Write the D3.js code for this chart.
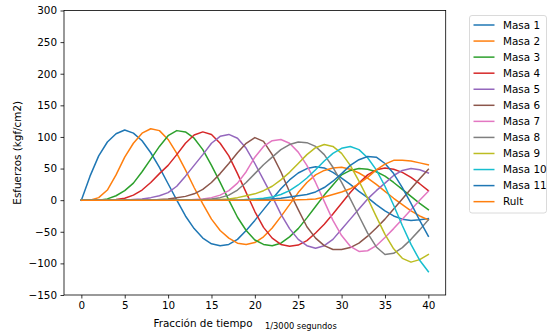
<!DOCTYPE html>
<html><head><meta charset="utf-8">
<script src="https://cdn.jsdelivr.net/npm/d3@7"></script>
<style>body{margin:0;background:#fff}svg{display:block;font-family:"DejaVu Sans",sans-serif}</style>
</head><body><svg id="c" width="552" height="336"></svg>
<script>
const steps = d3.range(0, 41);
const xTicks = [0, 5, 10, 15, 20, 25, 30, 35, 40];
const yTicks = [-150, -100, -50, 0, 50, 100, 150, 200, 250, 300];
const seriesNames = ["Masa 1","Masa 2","Masa 3","Masa 4","Masa 5","Masa 6","Masa 7","Masa 8","Masa 9","Masa 10","Masa 11","Rult"];
const colors = ["#1f77b4","#ff7f0e","#2ca02c","#d62728","#9467bd","#8c564b","#e377c2","#7f7f7f","#bcbd22","#17becf","#1f77b4","#ff7f0e"];

const masa1 = [0,38,70,92,105,111,106,94,75,52,26,0,-25,-45,-60,-69,-72,-70,-62,-48,-32,-15,2,18,32,43,50,53,51,44,35,25,14,4,-7,-17,-25,-30,-32,-31,-29];
const masa2 = [0,0,4,16,40,68,90,106,113,110,96,74,48,20,-6,-30,-48,-60,-68,-70,-67,-58,-44,-26,-7,12,28,40,47,51,52,49,43,35,25,14,3,-7,-17,-25,-31];
const masa3 = [0,0,0,2,7,15,27,45,65,85,102,110,108,98,80,55,28,0,-27,-48,-63,-70,-72,-68,-58,-45,-28,-10,8,24,40,47,50,49,45,38,28,17,6,-5,-15];
const masa4 = [0,0,0,0,1,3,8,16,28,42,55,72,90,103,108,104,90,70,42,12,-18,-43,-60,-70,-73,-71,-64,-52,-38,-22,-5,12,27,40,48,51,49,44,36,26,15];
const masa5 = [0,0,0,0,0,0,1,2,4,7,12,22,38,55,72,90,101,104,98,82,58,32,6,-22,-45,-62,-72,-76,-72,-62,-46,-30,-14,2,15,27,39,47,50,48,43];
const masa6 = [0,0,0,0,0,0,0,0,0,1,2,4,6,10,17,28,42,58,75,90,99,93,72,45,13,-15,-42,-60,-72,-78,-78,-75,-68,-57,-44,-30,-14,2,18,34,49];
const masa7 = [0,0,0,0,0,0,0,0,0,0,0,0,0,1,2,4,8,15,27,45,68,85,94,96,90,76,55,28,-2,-32,-56,-73,-81,-80,-72,-59,-45,-30,-15,0,14];
const masa8 = [0,0,0,0,0,0,0,0,0,0,0,0,0,0,1,2,4,8,16,28,42,56,68,80,88,92,91,85,72,52,28,2,-25,-52,-74,-86,-84,-75,-62,-47,-31];
const masa9 = [0,0,0,0,0,0,0,0,0,0,0,0,0,0,0,0,1,2,4,7,10,15,22,32,44,58,72,83,88,85,74,55,30,3,-26,-54,-77,-92,-98,-94,-86];
const masa10 = [0,0,0,0,0,0,0,0,0,0,0,0,0,0,0,0,0,0,0,1,2,3,5,9,15,24,35,48,62,74,82,85,80,67,48,22,-8,-40,-70,-95,-113];
const masa11 = [0,0,0,0,0,0,0,0,0,0,0,0,0,0,0,0,0,0,0,0,0,1,2,3,5,7,9,13,20,30,42,55,64,69,68,58,42,20,-5,-32,-57];
const rult = [0,0,0,0,0,0,0,0,0,0,0,0,0,0,0,0,0,0,0,0,0,0,0,0,0,0.5,1,2,5,9,13,18,26,36,48,57,63,63,62,59,56];

const allSeries = [masa1,masa2,masa3,masa4,masa5,masa6,masa7,masa8,masa9,masa10,masa11,rult];

const svg = d3.select("#c");
const L = 64, R = 445.7, T = 10.5, B = 295;
const x = d3.scaleLinear().domain([-2, 42]).range([L, R]);
const y = d3.scaleLinear().domain([-150, 300]).range([B, T]);
const fs = 10.4;

const line = d3.line().x((d, i) => x(steps[i])).y(d => y(d));
const g = svg.append("g");
allSeries.forEach((s, k) => {
  g.append("path").datum(s).attr("d", line).attr("fill", "none")
    .attr("stroke", colors[k]).attr("stroke-width", 1.5)
    .attr("stroke-linejoin", "round").attr("stroke-linecap", "square");
});

// axes
const xa = svg.append("g").attr("transform", `translate(0,${B})`)
  .call(d3.axisBottom(x).tickValues(xTicks).tickSize(3.5).tickPadding(3.5).tickFormat(d3.format("d")));
const ya = svg.append("g").attr("transform", `translate(${L},0)`)
  .call(d3.axisLeft(y).tickValues(yTicks).tickSize(3.5).tickPadding(3.5).tickFormat(d => d < 0 ? "\u2212" + Math.abs(d) : d));
[xa, ya].forEach(a => {
  a.select(".domain").remove();
  a.selectAll("line").attr("stroke", "#000").attr("stroke-width", 0.8);
  a.selectAll("text").attr("font-family", "DejaVu Sans").attr("font-size", fs).attr("fill", "#000");
});
svg.append("rect").attr("x", L).attr("y", T).attr("width", R - L).attr("height", B - T)
  .attr("fill", "none").attr("stroke", "#000").attr("stroke-width", 0.8);

// labels
svg.append("text").attr("x", 203).attr("y", 327).attr("text-anchor", "middle")
  .attr("font-size", fs).text("Fracción de tiempo");
svg.append("text").attr("x", 265).attr("y", 329).attr("text-anchor", "start")
  .attr("font-size", 8.3).text("1/3000 segundos");
svg.append("text").attr("transform", `translate(21,${(T + B) / 2}) rotate(-90)`)
  .attr("text-anchor", "middle").attr("font-size", fs).text("Esfuerzos (kgf/cm2)");

// legend
const lg = svg.append("g");
lg.append("rect").attr("x", 469.5).attr("y", 15.5).attr("width", 77).attr("height", 197.5)
  .attr("rx", 2.5).attr("fill", "#fff").attr("fill-opacity", 0.8).attr("stroke", "#d0d0d0").attr("stroke-width", 0.8);
seriesNames.forEach((n, k) => {
  const yy = 25 + k * 16.06;
  lg.append("line").attr("x1", 473.5).attr("x2", 494.5).attr("y1", yy).attr("y2", yy)
    .attr("stroke", colors[k]).attr("stroke-width", 1.5);
  lg.append("text").attr("x", 503).attr("y", yy).attr("dy", "0.36em").attr("font-size", fs).text(n);
});
</script></body></html>
